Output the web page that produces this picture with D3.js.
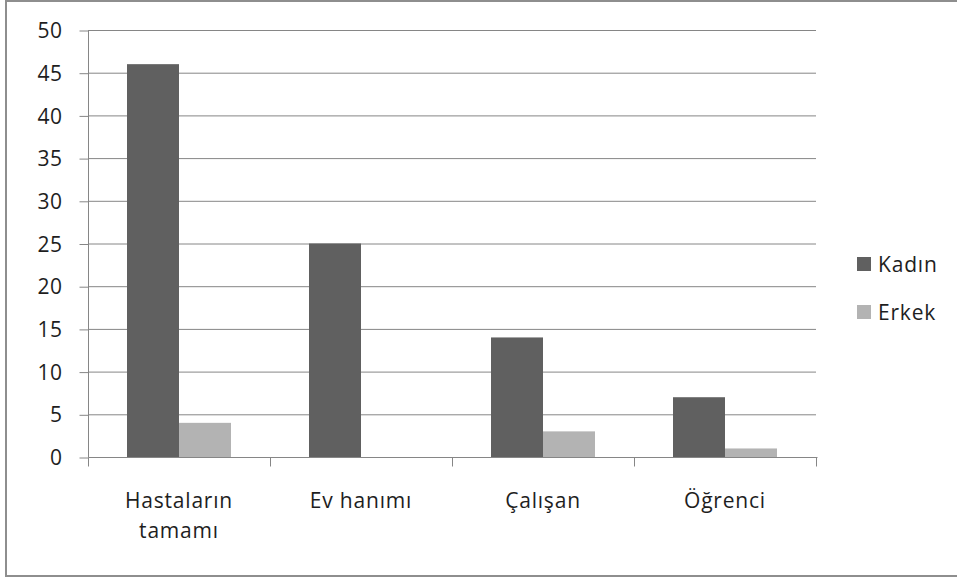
<!DOCTYPE html>
<html>
<head>
<meta charset="utf-8">
<script src="https://cdn.jsdelivr.net/npm/d3@7"></script>
<style>
  html, body { margin: 0; padding: 0; background: #fff; }
  svg text { font-family: "Open Sans", sans-serif; fill: #1e1e1e; }
</style>
</head>
<body>
<svg id="chart" width="957" height="578"></svg>
<script>
// Data
const categories = [["Hastaların", "tamamı"], ["Ev hanımı"], ["Çalışan"], ["Öğrenci"]];
const seriesNames = ["Kadın", "Erkek"];
const kadin = [46, 25, 14, 7];
const erkek = [4, 0, 3, 1];
const yTicks = [0, 5, 10, 15, 20, 25, 30, 35, 40, 45, 50];
const seriesColors = ["#606060", "#b3b3b3"];

const svg = d3.select("#chart");
const fontSize = 21;

// chart frame
svg.append("rect")
  .attr("x", 6).attr("y", 1).attr("width", 960).attr("height", 575)
  .attr("fill", "#fff").attr("stroke", "#8e8e8e").attr("stroke-width", 2);

const plot = { left: 88, right: 816, top: 30, bottom: 457 };

const catKeys = categories.map((c, i) => i);
const x = d3.scaleBand().domain(catKeys).range([plot.left, plot.right]).paddingInner(0).paddingOuter(0);
const y = d3.scaleLinear().domain([0, 50]).range([plot.bottom, plot.top]);

const gridColor = "#868686";

// horizontal gridlines
svg.append("g").selectAll("line").data(yTicks.filter(t => t > 0)).join("line")
  .attr("x1", plot.left).attr("x2", plot.right)
  .attr("y1", d => y(d) + 0.5).attr("y2", d => y(d) + 0.5)
  .attr("stroke", gridColor).attr("stroke-width", 1);

// y axis
const yAxis = d3.axisLeft(y).tickValues(yTicks).tickSize(9).tickPadding(17);
const gy = svg.append("g").attr("transform", `translate(${plot.left + 0.5},0.5)`).call(yAxis);
gy.select(".domain").attr("stroke", gridColor).attr("d", `M0,${plot.top}V${plot.bottom}`);
gy.selectAll(".tick line").attr("stroke", gridColor);
gy.selectAll(".tick text").attr("font-size", fontSize).attr("letter-spacing", "0.5px")
  .attr("fill", "#1e1e1e").attr("font-family", "Open Sans, sans-serif").attr("dy", "0.34em");

// x axis
const xb = d3.scaleLinear().domain([0, categories.length]).range([plot.left, plot.right]);
const gx = svg.append("g").attr("transform", `translate(0.5,${plot.bottom + 0.5})`);
gx.append("line").attr("x1", plot.left).attr("x2", plot.right + 1).attr("y1", 0).attr("y2", 0)
  .attr("stroke", gridColor);
gx.selectAll("line.tk").data(d3.range(categories.length + 1)).join("line")
  .attr("class", "tk")
  .attr("x1", d => Math.round(xb(d))).attr("x2", d => Math.round(xb(d)))
  .attr("y1", 0).attr("y2", 9).attr("stroke", gridColor);

// bars
const barW = x.bandwidth() * 2 / 7;
const groups = svg.append("g").selectAll("g").data(catKeys).join("g")
  .attr("transform", d => `translate(${x(d) + x.bandwidth() / 2 - barW},0)`);
groups.append("rect")
  .attr("x", 0).attr("width", barW)
  .attr("y", d => y(kadin[d])).attr("height", d => y(0) - y(kadin[d]))
  .attr("fill", seriesColors[0]);
groups.append("rect")
  .attr("x", barW).attr("width", barW)
  .attr("y", d => y(erkek[d])).attr("height", d => y(0) - y(erkek[d]))
  .attr("fill", seriesColors[1]);

// category labels
const lab = svg.append("g").selectAll("text").data(catKeys).join("text")
  .attr("x", d => x(d) + x.bandwidth() / 2)
  .attr("y", 508)
  .attr("text-anchor", "middle")
  .attr("font-size", fontSize).attr("letter-spacing", "0.8px");
lab.selectAll("tspan").data(d => categories[d].map((t, j) => ({ t, j, d }))).join("tspan")
  .attr("x", o => x(o.d) + x.bandwidth() / 2)
  .attr("dy", o => o.j === 0 ? 0 : 30)
  .text(o => o.t);

// legend
const leg = svg.append("g").selectAll("g").data(seriesNames).join("g")
  .attr("transform", (d, i) => `translate(857,${257 + i * 48})`);
leg.append("rect").attr("width", 14).attr("height", 14)
  .attr("fill", (d, i) => seriesColors[i]);
leg.append("text").attr("x", 21).attr("y", 15)
  .attr("font-size", fontSize).attr("letter-spacing", "0.8px")
  .text(d => d);
</script>
</body>
</html>
